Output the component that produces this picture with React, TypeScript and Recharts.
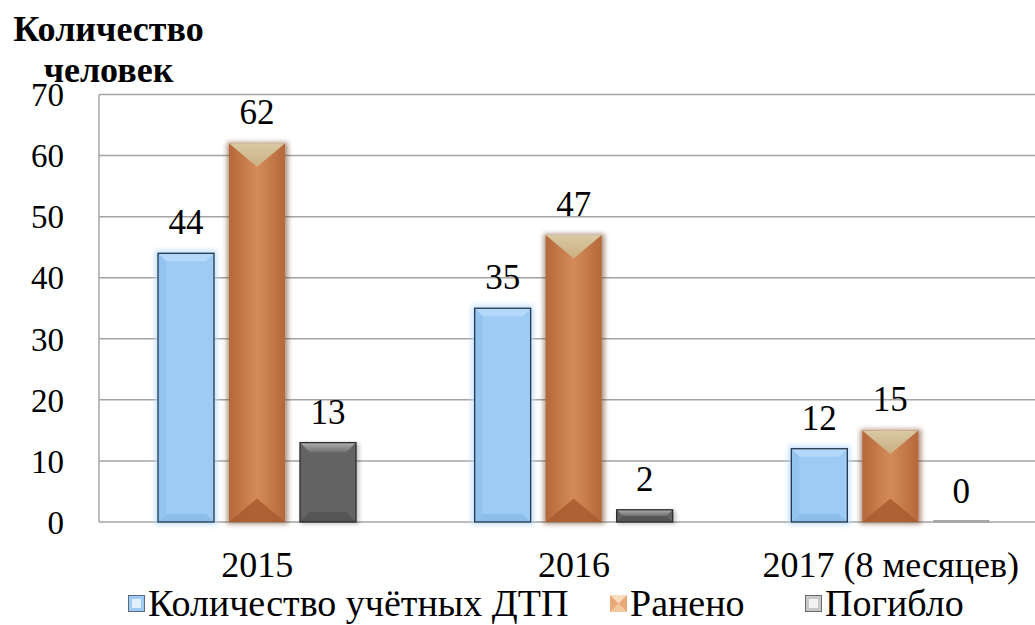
import { Bar, BarChart, CartesianGrid, LabelList, XAxis, YAxis } from 'recharts';

const categories = ['2015', '2016', '2017 (8 месяцев)'];
const accidents = [44, 35, 12];
const injured = [62, 47, 15];
const killed = [13, 2, 0];
const yTicks = [0, 10, 20, 30, 40, 50, 60, 70];
const seriesNames = ['Количество учётных ДТП', 'Ранено', 'Погибло'];

const data = categories.map((name, i) => ({
  name,
  accidents: accidents[i],
  injured: injured[i],
  killed: killed[i],
}));

const FONT = "'Liberation Serif', 'Tinos', serif";

function BlueBar(props: any) {
  const { x, y, width: w, height: h } = props;
  if (h == null || w == null) return null;
  const b = Math.min(8, h / 2);
  return (
    <g>
      <rect x={x - 3} y={y - 3} width={w + 6} height={h + 6} fill="#b9dcff" opacity={0.8} filter="url(#glowBlue)" />
      <rect x={x} y={y} width={w} height={h} fill="#9ecbf4" />
      <polygon points={`${x},${y} ${x + w},${y} ${x + w - b},${y + b} ${x + b},${y + b}`} fill="#b3d8f9" />
      <polygon points={`${x},${y + h} ${x + w},${y + h} ${x + w - b},${y + h - b} ${x + b},${y + h - b}`} fill="#8dbde9" />
      <polygon points={`${x},${y} ${x + b},${y + b} ${x + b},${y + h - b} ${x},${y + h}`} fill="#93c4f0" />
      <rect x={x} y={y} width={w} height={h} fill="none" stroke="#27384a" strokeWidth={1.3} />
    </g>
  );
}

function OrangeBar(props: any) {
  const { x, y, width: w, height: h } = props;
  if (h == null || w == null) return null;
  const d = Math.min(w * 0.42, h / 2);
  return (
    <g>
      <rect x={x - 2} y={y - 1} width={w + 5} height={h + 3} fill="#6b3a1c" opacity={0.55} filter="url(#shadowOrange)" />
      <rect x={x} y={y} width={w} height={h} fill="url(#gradOrange)" />
      <polygon points={`${x},${y} ${x + w},${y} ${x + w / 2},${y + d}`} fill="url(#gradTan)" />
      <polygon points={`${x},${y + h} ${x + w},${y + h} ${x + w / 2},${y + h - d}`} fill="#a85c2f" opacity={0.85} />
    </g>
  );
}

function GrayBar(props: any) {
  const { x, y, width: w, height: h } = props;
  if (w == null) return null;
  if (!h || h < 2) {
    return <rect x={x} y={y - 2} width={w} height={3} fill="#a8a8a8" />;
  }
  const b = Math.min(10, h / 2);
  return (
    <g>
      <rect x={x + 1} y={y + 1} width={w + 2} height={h + 1} fill="#000" opacity={0.25} filter="url(#shadowGray)" />
      <rect x={x} y={y} width={w} height={h} fill="#636363" />
      <polygon points={`${x},${y} ${x + w},${y} ${x + w - b},${y + b} ${x + b},${y + b}`} fill="url(#gradGrayTop)" />
      <polygon points={`${x},${y + h} ${x + w},${y + h} ${x + w - b},${y + h - b} ${x + b},${y + h - b}`} fill="#555" />
      <rect x={x} y={y} width={w} height={h} fill="none" stroke="#2e2e2e" strokeWidth={1.3} />
    </g>
  );
}

function LegendIcon({ kind }: { kind: number }) {
  const s = 17;
  if (kind === 1) {
    return (
      <svg width={s} height={s} style={{ marginRight: 3, flex: 'none' }}>
        <rect x={0} y={0} width={s} height={s} fill="#e9a878" />
        <polygon points={`0,0 ${s},0 ${s / 2},${s / 2}`} fill="#f7dcc0" />
        <polygon points={`0,${s} ${s},${s} ${s / 2},${s / 2}`} fill="#f3c9a2" />
      </svg>
    );
  }
  const fill = kind === 0 ? '#9ecbf4' : '#c8c8c8';
  const light = kind === 0 ? '#e3f0fb' : '#f2f2f2';
  const stroke = kind === 0 ? '#5a6a7c' : '#6a6a6a';
  return (
    <svg width={s} height={s} style={{ marginRight: 3, flex: 'none' }}>
      <rect x={0.5} y={0.5} width={s - 1} height={s - 1} fill={fill} stroke={stroke} />
      <rect x={4} y={4} width={s - 8} height={s - 8} fill={light} />
    </svg>
  );
}

const legendLefts = [128, 610, 805];

export default function App() {
  return (
    <div
      style={{
        position: 'absolute',
        left: 0,
        top: 0,
        width: 1035,
        height: 625,
        overflow: 'hidden',
        background: '#fff',
        fontFamily: FONT,
      }}
    >
      <svg width={0} height={0} style={{ position: 'absolute' }}>
        <defs>
          <filter id="glowBlue" x="-30%" y="-30%" width="160%" height="160%">
            <feGaussianBlur stdDeviation={2.5} />
          </filter>
          <filter id="shadowOrange" x="-30%" y="-30%" width="160%" height="160%">
            <feGaussianBlur stdDeviation={2.5} />
          </filter>
          <filter id="shadowGray" x="-30%" y="-30%" width="160%" height="160%">
            <feGaussianBlur stdDeviation={2} />
          </filter>
          <linearGradient id="gradOrange" x1="0" y1="0" x2="1" y2="0">
            <stop offset="0%" stopColor="#b5683a" />
            <stop offset="50%" stopColor="#d48b59" />
            <stop offset="100%" stopColor="#b5683a" />
          </linearGradient>
          <linearGradient id="gradTan" x1="0" y1="0" x2="0" y2="1">
            <stop offset="0%" stopColor="#d8c9a2" />
            <stop offset="100%" stopColor="#ccaf84" />
          </linearGradient>
          <linearGradient id="gradGrayTop" x1="0" y1="0" x2="0" y2="1">
            <stop offset="0%" stopColor="#b0b0b0" />
            <stop offset="100%" stopColor="#6f6f6f" />
          </linearGradient>
        </defs>
      </svg>

      <BarChart
        width={1050}
        height={625}
        data={data}
        margin={{ top: 94.5, right: 1, left: 0, bottom: 43 }}
        barSize={56}
        barGap={15}
      >
        <CartesianGrid vertical={false} stroke="#a3a3a3" strokeWidth={1.5} />
        <XAxis
          dataKey="name"
          height={60}
          axisLine={false}
          tickLine={false}
          tickSize={0}
          tickMargin={29}
          tick={{ fontSize: 36, fill: '#000', fontFamily: FONT }}
          interval={0}
        />
        <YAxis
          width={99}
          domain={[0, 70]}
          ticks={yTicks}
          axisLine={{ stroke: '#a6a6a6', strokeWidth: 1.5 }}
          tickLine={false}
          tickSize={0}
          tickMargin={35}
          tick={{ fontSize: 33, fill: '#000', fontFamily: FONT }}
        />
        <Bar dataKey="accidents" name={seriesNames[0]} shape={BlueBar} isAnimationActive={false}>
          <LabelList dataKey="accidents" position="top" offset={19} style={{ fontSize: 35, fill: '#000', fontFamily: FONT }} />
        </Bar>
        <Bar dataKey="injured" name={seriesNames[1]} shape={OrangeBar} isAnimationActive={false}>
          <LabelList dataKey="injured" position="top" offset={19} style={{ fontSize: 35, fill: '#000', fontFamily: FONT }} />
        </Bar>
        <Bar dataKey="killed" name={seriesNames[2]} shape={GrayBar} isAnimationActive={false}>
          <LabelList dataKey="killed" position="top" offset={19} style={{ fontSize: 35, fill: '#000', fontFamily: FONT }} />
        </Bar>
      </BarChart>

      <div
        style={{
          position: 'absolute',
          left: 0,
          top: 9,
          width: 217,
          textAlign: 'center',
          fontWeight: 'bold',
          fontSize: 36,
          lineHeight: '41px',
          color: '#000',
        }}
      >
        Количество
        <br />
        человек
      </div>

      {seriesNames.map((n, i) => (
        <div
          key={n}
          style={{
            position: 'absolute',
            left: legendLefts[i],
            top: 588,
            height: 30,
            display: 'flex',
            alignItems: 'center',
            fontSize: 38,
            lineHeight: '30px',
            color: '#000',
            whiteSpace: 'nowrap',
          }}
        >
          <LegendIcon kind={i} />
          {n}
        </div>
      ))}
    </div>
  );
}
